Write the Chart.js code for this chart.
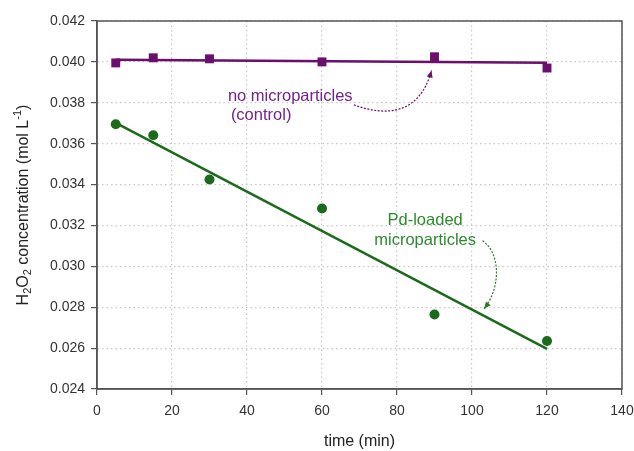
<!DOCTYPE html>
<html>
<head>
<meta charset="utf-8">
<script src="https://cdn.jsdelivr.net/npm/chart.js@4/dist/chart.umd.min.js"></script>
<style>
html,body{margin:0;padding:0;background:#fff;}
#wrap{width:634px;height:451px;position:relative;}
</style>
</head>
<body>
<div id="wrap"><canvas id="c" width="634" height="451"></canvas></div>
<script>
// ---- data ----
const timesMin = [5, 15, 30, 60, 90, 120];
const controlConc = [0.03995, 0.04020, 0.04015, 0.04000, 0.04025, 0.03970];
const pdConc = [0.03695, 0.03641, 0.03425, 0.03283, 0.02764, 0.02635];
const controlFitX = [5, 120];
const controlFitY = [0.04010, 0.03996];
const pdFitX = [5, 120];
const pdFitY = [0.03702, 0.02596];
const xTicks = [0, 20, 40, 60, 80, 100, 120, 140];
const yTicks = [0.024, 0.026, 0.028, 0.030, 0.032, 0.034, 0.036, 0.038, 0.040, 0.042];
const labelControl = ["no microparticles", "(control)"];
const labelPd = ["Pd-loaded", "microparticles"];
const xTitle = "time (min)";

const PURPLE = "#6a0f6c";
const PURPLE_TXT = "#73228a";
const GREEN = "#1c6b1c";
const GREEN_TXT = "#2e8a2e";
const FONT = "Liberation Sans, Arial, sans-serif";

const pts = (xs, ys) => xs.map((x, i) => ({x: x, y: ys[i]}));

const decor = {
  id: "decor",
  afterDraw(chart) {
    const {ctx, chartArea: a, scales: {x, y}} = chart;
    ctx.save();
    // frame
    ctx.strokeStyle = "#555";
    ctx.lineWidth = 1.5;
    ctx.strokeRect(a.left, a.top, a.right - a.left, a.bottom - a.top);

    // y title with sub/superscripts
    ctx.save();
    ctx.translate(24, (a.top + a.bottom) / 2);
    ctx.rotate(-Math.PI / 2);
    ctx.fillStyle = "#222";
    ctx.textBaseline = "middle";
    const parts = [["H", 0, 16], ["2", 4, 11], ["O", 0, 16], ["2", 4, 11], [" concentration (mol L", 0, 16], ["-1", -6, 11], [")", 0, 16]];
    let tw = 0;
    parts.forEach(p => { ctx.font = p[2] + "px " + FONT; tw += ctx.measureText(p[0]).width; });
    let cx = -tw / 2;
    parts.forEach(p => {
      ctx.font = p[2] + "px " + FONT;
      ctx.fillText(p[0], cx, p[1]);
      cx += ctx.measureText(p[0]).width;
    });
    ctx.restore();

    // annotations (positions in data units)
    ctx.font = "16.5px " + FONT;
    ctx.textBaseline = "middle";
    ctx.fillStyle = PURPLE_TXT;
    ctx.textAlign = "left";
    ctx.fillText(labelControl[0], x.getPixelForValue(34.9), y.getPixelForValue(0.03830));
    ctx.fillText(labelControl[1], x.getPixelForValue(35.7), y.getPixelForValue(0.03738));
    ctx.fillStyle = GREEN_TXT;
    ctx.textAlign = "center";
    ctx.fillText(labelPd[0], x.getPixelForValue(87.5), y.getPixelForValue(0.03224));
    ctx.fillText(labelPd[1], x.getPixelForValue(87.5), y.getPixelForValue(0.03125));

    function arrow(p0, c1, c2, p1, color) {
      const P = q => [x.getPixelForValue(q[0]), y.getPixelForValue(q[1])];
      const [x0, y0] = P(p0), [ax, ay] = P(c1), [bx, by] = P(c2), [x1, y1] = P(p1);
      ctx.strokeStyle = color;
      ctx.fillStyle = color;
      ctx.lineWidth = 1.2;
      ctx.setLineDash([2, 1.5]);
      ctx.beginPath();
      ctx.moveTo(x0, y0);
      ctx.bezierCurveTo(ax, ay, bx, by, x1, y1);
      ctx.stroke();
      ctx.setLineDash([]);
      const ang = Math.atan2(y1 - by, x1 - bx);
      const L = 7, W = 3;
      ctx.beginPath();
      ctx.moveTo(x1, y1);
      ctx.lineTo(x1 - L * Math.cos(ang) + W * Math.sin(ang), y1 - L * Math.sin(ang) - W * Math.cos(ang));
      ctx.lineTo(x1 - L * Math.cos(ang) - W * Math.sin(ang), y1 - L * Math.sin(ang) + W * Math.cos(ang));
      ctx.closePath();
      ctx.fill();
    }
    arrow([68.5, 0.03790], [77.3, 0.03730], [86.1, 0.03745], [89.2, 0.03958], PURPLE);
    arrow([102.8, 0.03125], [107.7, 0.03065], [107.7, 0.02895], [103.2, 0.02792], "#2a7a2a");
    ctx.restore();
  }
};

new Chart(document.getElementById("c"), {
  type: "scatter",
  data: {
    datasets: [
      {label: "control fit", type: "line", data: pts(controlFitX, controlFitY), borderColor: PURPLE, borderWidth: 2.5, pointRadius: 0, fill: false, order: 2},
      {label: "Pd fit", type: "line", data: pts(pdFitX, pdFitY), borderColor: GREEN, borderWidth: 2.5, pointRadius: 0, fill: false, order: 2},
      {label: "control", data: pts(timesMin, controlConc), pointStyle: "rect", pointRadius: 6.3, backgroundColor: PURPLE, borderColor: PURPLE, borderWidth: 0, order: 1},
      {label: "Pd-loaded", data: pts(timesMin, pdConc), pointStyle: "circle", pointRadius: 5, backgroundColor: GREEN, borderColor: GREEN, borderWidth: 0, order: 1}
    ]
  },
  options: {
    responsive: false,
    animation: false,
    layout: {padding: {left: 0, top: 21, right: 12, bottom: 0}},
    plugins: {legend: {display: false}, tooltip: {enabled: false}},
    scales: {
      x: {
        type: "linear", min: 0, max: 140,
        afterBuildTicks: s => { s.ticks = xTicks.map(v => ({value: v})); },
        afterFit: s => { s.height = 62; s.paddingLeft = 0; s.paddingRight = 0; },
        ticks: {color: "#333", font: {family: FONT, size: 14}, padding: 8},
        grid: {color: "#c8c8c8", lineWidth: 1.2, tickColor: "#555", tickLength: 6, tickWidth: 1.2},
        border: {color: "#555", width: 1.5, dash: [1.5, 3]},
        title: {display: true, text: xTitle, color: "#222", font: {family: FONT, size: 16}, padding: {top: 15, bottom: 0}}
      },
      y: {
        type: "linear", min: 0.024, max: 0.042,
        afterBuildTicks: s => { s.ticks = yTicks.map(v => ({value: v})); },
        afterFit: s => { s.width = 97; s.paddingTop = 0; s.paddingBottom = 0; },
        ticks: {color: "#333", font: {family: FONT, size: 14}, padding: 6, callback: v => v.toFixed(3)},
        grid: {color: "#c8c8c8", lineWidth: 1.2, tickColor: "#555", tickLength: 6, tickWidth: 1.2},
        border: {color: "#555", width: 1.5, dash: [1.5, 3]}
      }
    }
  },
  plugins: [decor]
});
</script>
</body>
</html>
